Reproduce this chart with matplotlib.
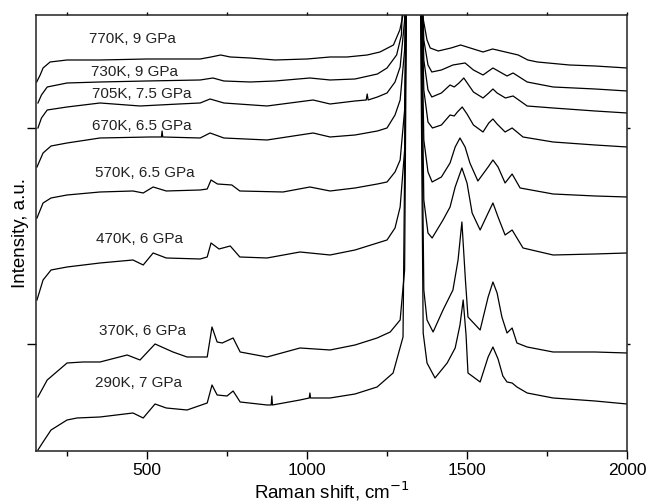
import matplotlib
matplotlib.use("Agg")
import matplotlib.pyplot as plt
from matplotlib.ticker import FixedLocator, NullFormatter

plt.rcParams['font.family'] = ['Liberation Sans', 'DejaVu Sans']

# Raman shift (cm^-1) and intensity (a.u.)
w_770 = [155, 166, 175, 197, 250, 353, 500, 600, 666, 700, 730, 760, 822, 900, 1000, 1072, 1125, 1188, 1228, 1270,
         1290, 1300, 1312, 1332, 1352, 1362, 1375, 1385, 1410, 1450, 1480, 1520, 1550, 1580, 1620, 1660, 1690, 1720,
         1820, 1900, 2000]
i_770 = [369, 376, 383, 389, 391, 391, 392, 392, 392, 394, 396, 394, 393, 391, 392, 394, 394, 396, 399, 406,
         421, 436, 551, 1051, 551, 434, 411, 403, 400, 403, 406, 402, 399, 402, 399, 396, 391, 389,
         386, 385, 383]

w_730 = [159, 170, 188, 250, 353, 500, 666, 706, 740, 822, 900, 1009, 1072, 1150, 1220, 1250, 1280, 1295, 1310, 1332,
         1352, 1365, 1378, 1390, 1420, 1456, 1494, 1520, 1550, 1581, 1625, 1644, 1688, 1769, 1900, 2000]
i_730 = [348, 356, 364, 368, 369, 370, 371, 373, 370, 369, 370, 373, 371, 372, 377, 383, 396, 416, 551, 1051,
         551, 411, 386, 379, 381, 386, 388, 381, 376, 383, 375, 378, 369, 364, 362, 360]

w_705 = [159, 170, 188, 250, 353, 478, 600, 666, 697, 740, 875, 1019, 1072, 1150, 1185, 1188, 1191, 1220, 1250, 1275,
         1291, 1305, 1313, 1332, 1352, 1365, 1378, 1390, 1420, 1447, 1460, 1475, 1490, 1505, 1520, 1550, 1568, 1581,
         1594, 1620, 1644, 1688, 1769, 1900, 2000]
i_705 = [323, 333, 341, 344, 348, 345, 347, 348, 352, 348, 345, 351, 347, 350, 351, 357, 351, 354, 358, 369,
         384, 431, 551, 1051, 551, 391, 361, 354, 358, 366, 364, 368, 373, 366, 359, 353, 358, 362,
         358, 353, 355, 345, 343, 340, 338]

w_670 = [156, 175, 200, 250, 353, 509, 545, 547, 549, 666, 697, 740, 875, 1019, 1072, 1150, 1220, 1250, 1275, 1291,
         1305, 1313, 1332, 1352, 1365, 1378, 1392, 1420, 1447, 1460, 1470, 1485, 1500, 1520, 1550, 1568, 1581, 1594,
         1619, 1641, 1675, 1769, 1900, 2000]
i_670 = [284, 298, 305, 308, 313, 314, 314, 320, 314, 313, 318, 313, 311, 318, 314, 316, 320, 323, 336, 351,
         401, 551, 1051, 551, 361, 329, 323, 326, 336, 335, 339, 344, 337, 326, 319, 328, 332, 327,
         319, 323, 314, 309, 306, 304]

w_570 = [156, 175, 200, 250, 353, 456, 488, 519, 560, 666, 688, 700, 720, 765, 790, 925, 1009, 1072, 1150, 1220,
         1250, 1275, 1291, 1305, 1313, 1332, 1352, 1365, 1378, 1391, 1420, 1447, 1463, 1478, 1494, 1509, 1534, 1566,
         1581, 1597, 1619, 1641, 1666, 1769, 1900, 2000]
i_570 = [233, 248, 253, 256, 259, 260, 258, 264, 260, 261, 262, 271, 267, 266, 260, 259, 264, 260, 263, 267,
         269, 279, 291, 341, 551, 1051, 551, 311, 279, 269, 274, 288, 304, 313, 304, 288, 270, 284,
         291, 284, 268, 277, 263, 257, 255, 254]

w_470 = [156, 175, 200, 250, 353, 456, 488, 519, 560, 666, 688, 700, 725, 760, 790, 875, 978, 1072, 1150, 1220,
         1250, 1275, 1291, 1305, 1313, 1332, 1352, 1365, 1378, 1391, 1425, 1447, 1463, 1484, 1500, 1516, 1541, 1566,
         1581, 1597, 1619, 1641, 1675, 1769, 1900, 2000]
i_470 = [151, 171, 181, 184, 188, 191, 186, 198, 193, 192, 194, 208, 202, 205, 194, 193, 199, 196, 201, 208,
         211, 223, 244, 301, 551, 1051, 551, 251, 218, 213, 231, 244, 264, 283, 268, 238, 221, 238,
         248, 234, 216, 221, 203, 196, 197, 198]

w_370 = [159, 188, 250, 300, 353, 438, 478, 525, 581, 625, 688, 703, 719, 735, 769, 791, 875, 978, 1072, 1150,
         1219, 1260, 1291, 1305, 1313, 1332, 1352, 1365, 1375, 1394, 1425, 1456, 1472, 1484, 1495, 1503, 1541, 1566,
         1581, 1594, 1609, 1625, 1641, 1656, 1688, 1769, 1900, 2000]
i_370 = [54, 71, 88, 89, 89, 96, 91, 107, 99, 94, 94, 124, 109, 108, 113, 99, 94, 103, 101, 106,
         113, 119, 131, 181, 551, 1051, 551, 161, 131, 119, 141, 161, 191, 229, 171, 134, 121, 154,
         169, 158, 134, 118, 123, 108, 104, 99, 99, 98]

w_290 = [159, 175, 200, 250, 281, 353, 456, 488, 525, 560, 625, 688, 703, 719, 750, 769, 791, 875, 888, 890,
         892, 978, 1007, 1009, 1011, 1072, 1150, 1219, 1269, 1300, 1313, 1332, 1352, 1363, 1375, 1400, 1438, 1463,
         1478, 1488, 1497, 1503, 1541, 1566, 1581, 1597, 1612, 1625, 1641, 1656, 1688, 1769, 1900, 2000]
i_290 = [1, 9, 21, 31, 33, 34, 38, 33, 47, 43, 41, 48, 66, 56, 55, 60, 49, 46, 46, 55,
         46, 51, 53, 58, 53, 53, 57, 64, 78, 114, 551, 1051, 551, 118, 88, 73, 88, 103,
         126, 151, 116, 78, 69, 94, 104, 92, 75, 69, 68, 64, 58, 53, 50, 47]

labels = ["770K, 9 GPa", "730K, 9 GPa", "705K, 7.5 GPa", "670K, 6.5 GPa",
          "570K, 6.5 GPa", "470K, 6 GPa", "370K, 6 GPa", "290K, 7 GPa"]
label_pos = [(319, 412), (325, 379), (328, 357), (328, 325),
             (337, 278), (341, 212), (350, 120), (337, 68)]

series = [(w_770, i_770), (w_730, i_730), (w_705, i_705), (w_670, i_670),
          (w_570, i_570), (w_470, i_470), (w_370, i_370), (w_290, i_290)]

fig = plt.figure(figsize=(6.49, 5.03), dpi=100)
ax = fig.add_axes([0.0555, 0.1034, 0.9106, 0.8668])

for (w, i) in series:
    ax.plot(w, i, color='black', lw=0.9, solid_joinstyle='round')

for txt, (x, y) in zip(labels, label_pos):
    ax.text(x, y, txt, fontsize=11, color='#222222', va='center', ha='left')

ax.set_xlim(153, 2000)
ax.set_ylim(0, 436)
major_x = [500, 1000, 1500, 2000]
minor_x = [250, 750, 1250, 1750]
major_y = [107, 323]
ax.xaxis.set_major_locator(FixedLocator(major_x))
ax.xaxis.set_minor_locator(FixedLocator(minor_x))
ax.yaxis.set_major_locator(FixedLocator(major_y))
ax.yaxis.set_major_formatter(NullFormatter())

ax.tick_params(axis='x', which='major', direction='out', length=6, width=1, labelsize=12.5, pad=3)
ax.tick_params(axis='x', which='minor', direction='out', length=3.5, width=1)
ax.tick_params(axis='y', which='major', direction='out', length=6.5, width=1)

# short mirrored ticks on top and right
secx = ax.secondary_xaxis('top')
secx.xaxis.set_major_locator(FixedLocator(major_x))
secx.xaxis.set_minor_locator(FixedLocator(minor_x))
secx.tick_params(which='both', direction='out', length=2, width=1, labeltop=False)
secx.spines['top'].set_visible(False)
secy = ax.secondary_yaxis('right')
secy.yaxis.set_major_locator(FixedLocator(major_y))
secy.tick_params(which='both', direction='out', length=2, width=1, labelright=False)
secy.spines['right'].set_visible(False)

for sp in ax.spines.values():
    sp.set_linewidth(1.1)
    sp.set_color('#222222')

ax.set_xlabel('Raman shift, cm$^{-1}$', fontsize=13.5, labelpad=1)
ax.set_ylabel('Intensity, a.u.', fontsize=13.5, labelpad=-5)

fig.savefig('out.png', dpi=100)
